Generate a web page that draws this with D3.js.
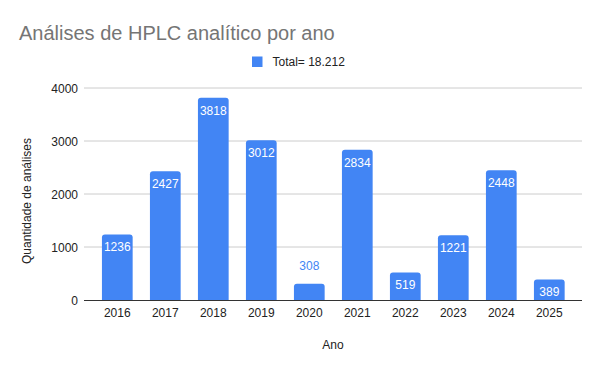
<!DOCTYPE html>
<html><head><meta charset="utf-8">
<script src="https://cdn.jsdelivr.net/npm/d3@7"></script>
<style>body{margin:0;background:#fff}svg{display:block;font-family:"Liberation Sans",Arial,sans-serif}</style>
</head><body><svg id="c" width="600" height="371"></svg>
<script>
const years = ["2016","2017","2018","2019","2020","2021","2022","2023","2024","2025"];
const values = [1236,2427,3818,3012,308,2834,519,1221,2448,389];
const yTicks = [0,1000,2000,3000,4000];
const title = "Análises de HPLC analítico por ano";
const legendLabel = "Total= 18.212";
const xTitle = "Ano";
const yTitle = "Quantidade de análises";

const svg = d3.select("#c");
const color = "#4285f4";
const x = d3.scaleBand().domain(years).range([93.3,573.3]).paddingInner(0.36).paddingOuter(0.18);
const y = d3.scaleLinear().domain([0,4000]).range([300,88]);

svg.append("text").attr("x",19).attr("y",40).attr("font-size",20).attr("fill","#757575").text(title);
svg.append("rect").attr("x",252).attr("y",56.5).attr("width",10.5).attr("height",10.5).attr("fill",color);
svg.append("text").attr("x",272.5).attr("y",66).attr("font-size",12).attr("fill","#222").text(legendLabel);

// grid
svg.append("g").selectAll("line").data(yTicks.slice(1)).join("line")
  .attr("x1",84).attr("x2",582).attr("y1",d=>y(d)).attr("y2",d=>y(d)).attr("stroke","#cccccc");
svg.append("g").selectAll("text").data(yTicks).join("text")
  .attr("x",78).attr("y",d=>y(d)+4.5).attr("text-anchor","end").attr("font-size",12).attr("fill","#222").text(d=>d);

// bars with rounded tops
const r = 3;
svg.append("g").selectAll("path").data(values).join("path")
  .attr("fill",color)
  .attr("d",(d,i)=>{
    const x0 = x(years[i]), w = x.bandwidth(), y0 = y(d), y1 = y(0);
    return `M${x0},${y1}V${y0+r}Q${x0},${y0} ${x0+r},${y0}H${x0+w-r}Q${x0+w},${y0} ${x0+w},${y0+r}V${y1}Z`;
  });

// value labels
const inside = d => (y(0)-y(d)) > 18;
svg.append("g").selectAll("text").data(values).join("text")
  .attr("x",(d,i)=>x(years[i])+x.bandwidth()/2)
  .attr("y",d=> inside(d) ? y(d)+17 : y(d)-14)
  .attr("text-anchor","middle").attr("font-size",12)
  .attr("fill",d=> inside(d) ? "#ffffff" : color)
  .text(d=>d);

// baseline
svg.append("line").attr("x1",84).attr("x2",582).attr("y1",y(0)+0.5).attr("y2",y(0)+0.5).attr("stroke","#333");

// x tick labels
svg.append("g").selectAll("text").data(years).join("text")
  .attr("x",d=>x(d)+x.bandwidth()/2).attr("y",317).attr("text-anchor","middle")
  .attr("font-size",12).attr("fill","#222").text(d=>d);

svg.append("text").attr("x",333).attr("y",349).attr("text-anchor","middle").attr("font-size",12).attr("fill","#222").text(xTitle);
svg.append("text").attr("transform","translate(31,201) rotate(-90)").attr("text-anchor","middle").attr("font-size",12).attr("fill","#222").text(yTitle);
</script></body></html>
